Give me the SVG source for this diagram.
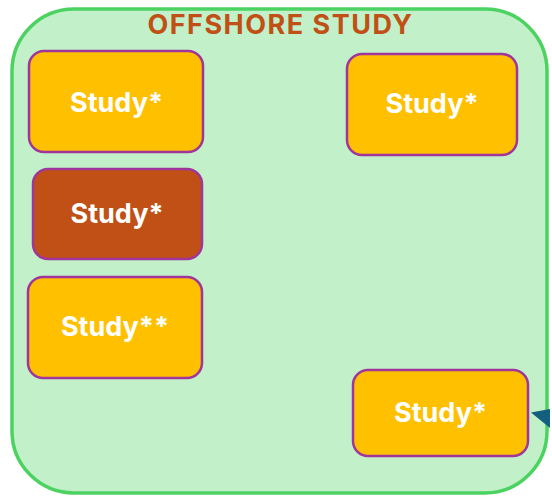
<svg xmlns="http://www.w3.org/2000/svg" width="552" height="498" viewBox="0 0 552 498">
<style>
.c{fill:#c2f0c8;stroke:#4cd261;stroke-width:3.5}
.n{fill:#ffc000;stroke:#a0359b;stroke-width:2.5}
.b{fill:#c05016}
.t{fill:#fff;font-family:Inter,Roboto,"Liberation Sans",sans-serif;font-weight:bold;font-size:27px;text-anchor:middle}
.h{fill:#c05016;font-family:Inter,Roboto,"Liberation Sans",sans-serif;font-weight:bold;font-size:27px;letter-spacing:1.5px;text-anchor:middle}
</style>
<g id="container">
<rect class="c" x="12" y="9" width="535" height="484" rx="62"/>
<text class="h" x="280.5" y="34">OFFSHORE STUDY</text>
</g>
<g id="connectors">
<polygon points="531,412.5 550,409 550,428" fill="#145e7e"/>
</g>
<g id="n1"><rect class="n" x="29" y="51" width="174" height="101" rx="15"/><text class="t" x="116.5" y="112">Study*</text></g>
<g id="n2"><rect class="n" x="347" y="54" width="170" height="101" rx="15"/><text class="t" x="432" y="113">Study*</text></g>
<g id="n3"><rect class="n b" x="33" y="169" width="169" height="90" rx="15"/><text class="t" x="117" y="223">Study*</text></g>
<g id="n4"><rect class="n" x="28" y="277" width="174" height="101" rx="15"/><text class="t" x="115" y="336">Study**</text></g>
<g id="n5"><rect class="n" x="353" y="370" width="175" height="86" rx="15"/><text class="t" x="440.5" y="422">Study*</text></g>
</svg>
